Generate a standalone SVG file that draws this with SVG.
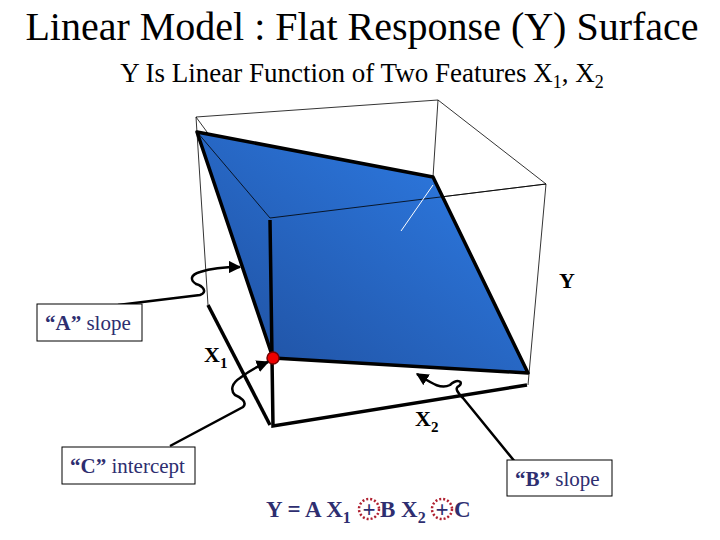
<svg xmlns="http://www.w3.org/2000/svg" width="720" height="540" viewBox="0 0 720 540">
<defs>
<linearGradient id="g" x1="0" y1="1" x2="1" y2="0"><stop offset="0" stop-color="#1f4f9e"/><stop offset="1" stop-color="#2f7fea"/></linearGradient>
<marker id="ah" viewBox="0 0 10 10" refX="9" refY="5" markerWidth="5" markerHeight="5" orient="auto"><path d="M0,0L10,5L0,10z" fill="#000"/></marker>
<style>
.thin{stroke:#000;stroke-width:0.8;fill:none}
.thick{stroke:#000;stroke-width:3.5;fill:none}
.arr{stroke:#000;stroke-width:2.5;fill:none;marker-end:url(#ah)}
text{font-family:"Liberation Serif",serif}
.lbl{font-size:21px;fill:#2e2e70}
.ax{font-size:22px;font-weight:bold;fill:#000}
.eq{font-size:23px;font-weight:bold;fill:#2e2e70}
.box{fill:#fff;stroke:#000;stroke-width:1}
</style>
</defs>
<rect width="720" height="540" fill="#fff"/>
<text x="362" y="40" text-anchor="middle" font-size="40" fill="#000">Linear Model : Flat Response (Y) Surface</text>
<text x="362" y="82" text-anchor="middle" font-size="27" fill="#000">Y Is Linear Function of Two Features X<tspan font-size="18" dy="6">1</tspan><tspan dy="-6">, X</tspan><tspan font-size="18" dy="6">2</tspan></text>
<g id="box">
<path class="thin" d="M196,117L438,100L546,184L528,385M196,117L208,305M196,117L270,218L546,184M438,100L433,177"/>
</g>
<g id="plane">
<polygon points="197,132 433,177 528,373 273,358" fill="url(#g)" stroke="#000" stroke-width="3.5" stroke-linejoin="round"/>
<path class="thin" d="M197,132L270,218L546,184"/>
<line x1="433" y1="185" x2="401" y2="231" stroke="#fff" stroke-width="1"/>
</g>
<g id="axes">
<path class="thick" d="M270,220L273,426L527,385" />
<path class="thick" d="M208,305L270,425" />
<circle cx="273" cy="358" r="6" fill="#e00" stroke="#700" stroke-width="1.5"/>
<text class="ax" x="204" y="362">X<tspan font-size="15" dy="6">1</tspan></text>
<text class="ax" x="415" y="426">X<tspan font-size="15" dy="6">2</tspan></text>
<text class="ax" x="559" y="288">Y</text>
</g>
<g id="connectors">
<path class="arr" d="M118,305L200,295C208,292 203,286 196,284C190,280 190,275 200,272C212,268 225,267 240,267"/>
<path class="arr" d="M170,446L243,407C248,402 240,397 235,395C230,390 232,383 240,378C250,370 258,366 268,362"/>
<path class="arr" d="M520,468L463,398C458,393 454,388 459,386C464,382 458,378 450,385C440,390 430,382 417,374"/>
</g>
<g id="lblA"><rect class="box" x="37" y="304" width="105" height="37"/><text class="lbl" x="45" y="330"><tspan font-weight="bold">“A”</tspan> slope</text></g>
<g id="lblC"><rect class="box" x="62" y="447" width="133" height="37"/><text class="lbl" x="70" y="473"><tspan font-weight="bold">“C”</tspan> intercept</text></g>
<g id="lblB"><rect class="box" x="507" y="460" width="105" height="36"/><text class="lbl" x="515" y="486"><tspan font-weight="bold">“B”</tspan> slope</text></g>
<g id="eq">
<text class="eq" x="266" y="517">Y = A X<tspan font-size="16" dy="6">1</tspan></text>
<text class="eq" x="369" y="517" text-anchor="middle">+</text>
<text class="eq" x="380" y="517">B X<tspan font-size="16" dy="6">2</tspan></text>
<text class="eq" x="442" y="517" text-anchor="middle">+</text>
<text class="eq" x="454" y="517">C</text>
<circle cx="369" cy="509" r="10" fill="none" stroke="#b02030" stroke-width="2.5" stroke-dasharray="2,2"/>
<circle cx="442" cy="509" r="10" fill="none" stroke="#b02030" stroke-width="2.5" stroke-dasharray="2,2"/>
</g>
</svg>
